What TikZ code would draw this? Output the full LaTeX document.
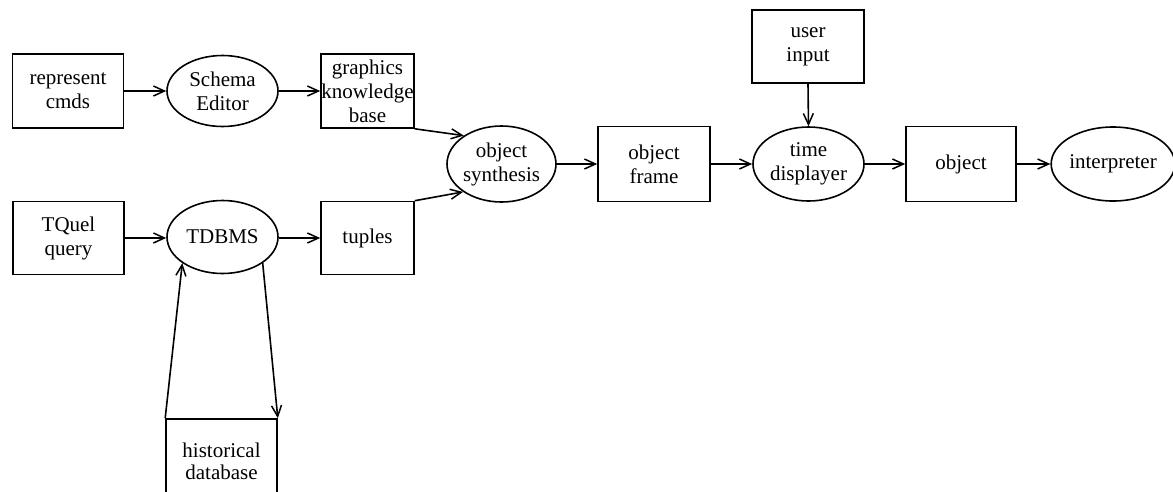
\documentclass[tikz,border=0pt]{standalone}
\usepackage{fontspec}
\setmainfont{Liberation Serif}
\usetikzlibrary{shapes.geometric,arrows.meta}
\tikzset{
  lbl/.style={font=\fontsize{21}{24}\selectfont, align=center, inner sep=0pt},
  boxnode/.style={lbl, draw, line width=1.6pt, rectangle},
  procnode/.style={lbl, draw, line width=1.6pt, ellipse, inner sep=0pt},
  flow/.style={line width=1.6pt, -{Straight Barb[length=11pt,width=10pt,line width=1.5pt]}}
}
\begin{document}
\begin{tikzpicture}[x=1pt,y=-1pt]
\useasboundingbox (0,0) rectangle (1173,491);

% upper row: representation commands to the graphics knowledge base
\node[boxnode, minimum width=111pt, minimum height=74pt] (rep) at (68,91) {represent\\cmds};
\node[procnode, minimum width=111pt, minimum height=71pt] (sched) at (222.5,91) {Schema\\Editor};
\node[boxnode, minimum width=93pt, minimum height=74pt] (gkb) at (367.5,91) {graphics\\knowledge\\base};

% lower row: query through the TDBMS
\node[boxnode, minimum width=111pt, minimum height=73pt] (tq) at (68.5,238) {TQuel\\query};
\node[procnode, minimum width=111pt, minimum height=73pt] (tdbms) at (222.5,237) {TDBMS};
\node[boxnode, minimum width=93pt, minimum height=73pt] (tup) at (367.5,238) {tuples};

% historical database (runs off the bottom edge)
\node[boxnode, minimum width=111pt, minimum height=90pt] (hist) at (221.5,464) {\raisebox{9pt}{\begin{tabular}{@{}c@{}}historical\\[-2pt]database\end{tabular}}};

% main pipeline
\node[procnode, minimum width=109pt, minimum height=76pt] (syn) at (501.5,164) {object\\synthesis};
\node[boxnode, minimum width=112pt, minimum height=75pt] (frame) at (654,164) {object\\frame};
\node[boxnode, minimum width=112pt, minimum height=73pt] (user) at (808,46.5) {user\\input};
\node[procnode, minimum width=111pt, minimum height=74pt] (disp) at (808.5,164) {time\\displayer};
\node[boxnode, minimum width=110pt, minimum height=75pt] (obj) at (961,164) {object};
\node[procnode, minimum width=108pt, minimum height=74pt] (interp) at (1113,164) {interpreter};

% connectors
\draw[flow] (rep.east) -- (sched.west);
\draw[flow] (sched.east) -- (gkb.west);
\draw[flow] (tq.east) -- (tdbms.west |- tq.east);
\draw[flow] (tdbms.east |- tup.west) -- (tup.west);
\draw[flow] (gkb.south east) -- (syn.143);
\draw[flow] (tup.north east) -- (syn.216);
\draw[flow] (hist.north west) -- (tdbms.213);
\draw[flow] (tdbms.-33) -- (hist.north east);
\draw[flow] (syn.east) -- (frame.west);
\draw[flow] (frame.east) -- (disp.west);
\draw[flow] (user.south) -- (disp.north);
\draw[flow] (disp.east) -- (obj.west);
\draw[flow] (obj.east) -- (interp.west);
\end{tikzpicture}
\end{document}
